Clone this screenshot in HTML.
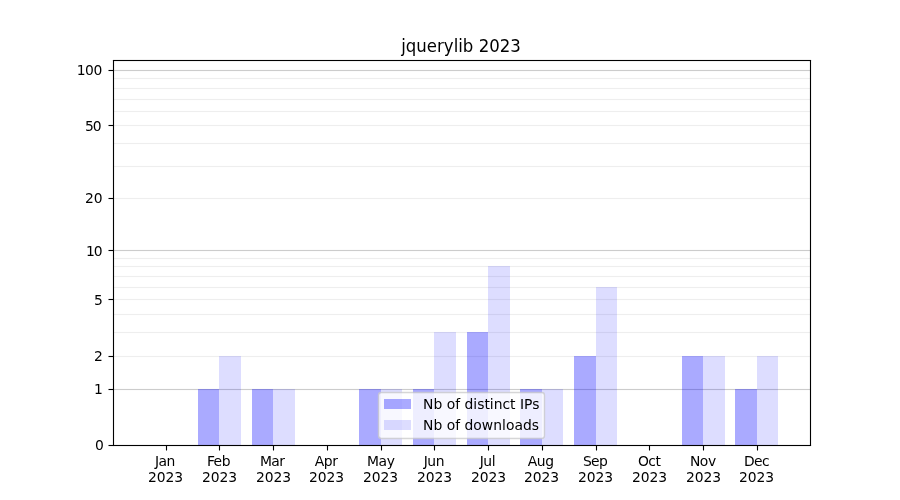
<!DOCTYPE html>
<html lang="en"><head><meta charset="utf-8"><title>jquerylib 2023</title>
<style>html,body{margin:0;padding:0;background:#fff}svg{display:block}text{font-family:'DejaVu Sans','Liberation Sans',sans-serif;fill:#000}.t{font-size:13.889px}.tt{font-size:16.667px}</style></head><body>
<svg width="900" height="500" viewBox="0 0 900 500">
<rect width="900" height="500" fill="#fff"/>
<g fill="#eee">
<rect x="114" y="355.945" width="696" height="1.111"/>
<rect x="114" y="331.945" width="696" height="1.111"/>
<rect x="114" y="313.945" width="696" height="1.111"/>
<rect x="114" y="298.945" width="696" height="1.111"/>
<rect x="114" y="286.945" width="696" height="1.111"/>
<rect x="114" y="275.945" width="696" height="1.111"/>
<rect x="114" y="265.945" width="696" height="1.111"/>
<rect x="114" y="257.945" width="696" height="1.111"/>
<rect x="114" y="197.945" width="696" height="1.111"/>
<rect x="114" y="165.945" width="696" height="1.111"/>
<rect x="114" y="142.945" width="696" height="1.111"/>
<rect x="114" y="124.945" width="696" height="1.111"/>
<rect x="114" y="110.945" width="696" height="1.111"/>
<rect x="114" y="98.945" width="696" height="1.111"/>
<rect x="114" y="87.945" width="696" height="1.111"/>
<rect x="114" y="77.945" width="696" height="1.111"/>
</g>
<g fill="#ccc">
<rect x="114" y="388.945" width="696" height="1.111"/>
<rect x="114" y="249.945" width="696" height="1.111"/>
<rect x="114" y="69.945" width="696" height="1.111"/>
</g>
<g fill="#00f">
<rect x="198" y="389" width="21" height="56" fill-opacity="0.3333"/>
<rect x="219" y="356" width="22" height="89" fill-opacity="0.1333"/>
<rect x="252" y="389" width="21" height="56" fill-opacity="0.3333"/>
<rect x="273" y="389" width="22" height="56" fill-opacity="0.1333"/>
<rect x="359" y="389" width="22" height="56" fill-opacity="0.3333"/>
<rect x="381" y="389" width="21" height="56" fill-opacity="0.1333"/>
<rect x="413" y="389" width="21" height="56" fill-opacity="0.3333"/>
<rect x="434" y="332" width="22" height="113" fill-opacity="0.1333"/>
<rect x="467" y="332" width="21" height="113" fill-opacity="0.3333"/>
<rect x="488" y="266" width="22" height="179" fill-opacity="0.1333"/>
<rect x="520" y="389" width="22" height="56" fill-opacity="0.3333"/>
<rect x="542" y="389" width="21" height="56" fill-opacity="0.1333"/>
<rect x="574" y="356" width="22" height="89" fill-opacity="0.3333"/>
<rect x="596" y="287" width="21" height="158" fill-opacity="0.1333"/>
<rect x="682" y="356" width="21" height="89" fill-opacity="0.3333"/>
<rect x="703" y="356" width="22" height="89" fill-opacity="0.1333"/>
<rect x="735" y="389" width="22" height="56" fill-opacity="0.3333"/>
<rect x="757" y="356" width="21" height="89" fill-opacity="0.1333"/>
</g>
<g stroke="#000" stroke-width="1.111" fill="none">
<path d="M166.5 445.5V450.5"/>
<path d="M219.5 445.5V450.5"/>
<path d="M273.5 445.5V450.5"/>
<path d="M327.5 445.5V450.5"/>
<path d="M381.5 445.5V450.5"/>
<path d="M434.5 445.5V450.5"/>
<path d="M488.5 445.5V450.5"/>
<path d="M542.5 445.5V450.5"/>
<path d="M596.5 445.5V450.5"/>
<path d="M649.5 445.5V450.5"/>
<path d="M703.5 445.5V450.5"/>
<path d="M757.5 445.5V450.5"/>
<rect x="108.5" y="444.945" width="5" height="1.111" fill="#000" stroke="none"/>
<rect x="108.5" y="388.945" width="5" height="1.111" fill="#000" stroke="none"/>
<rect x="108.5" y="355.945" width="5" height="1.111" fill="#000" stroke="none"/>
<rect x="108.5" y="298.945" width="5" height="1.111" fill="#000" stroke="none"/>
<rect x="108.5" y="249.945" width="5" height="1.111" fill="#000" stroke="none"/>
<rect x="108.5" y="197.945" width="5" height="1.111" fill="#000" stroke="none"/>
<rect x="108.5" y="124.945" width="5" height="1.111" fill="#000" stroke="none"/>
<rect x="108.5" y="69.945" width="5" height="1.111" fill="#000" stroke="none"/>
<path d="M113.5 60V446M810.5 60V446"/>
<rect x="112.944" y="59.944" width="698.111" height="1.111" fill="#000" stroke="none"/>
<rect x="112.944" y="444.944" width="698.111" height="1.111" fill="#000" stroke="none"/>
</g>
<rect x="378.5" y="392.5" width="166" height="46" rx="2.78" fill="#fff" stroke="#ccc" stroke-width="1.389" opacity="0.8"/>
<rect x="384" y="399" width="27" height="10" fill="#00f" fill-opacity="0.3333"/>
<rect x="384" y="420" width="27" height="10" fill="#00f" fill-opacity="0.1333"/>
<text class="t" text-anchor="middle" letter-spacing="-0.500" x="164.95" y="466.00">Jan</text>
<text class="t" text-anchor="middle" letter-spacing="-0.100" x="165.45" y="482.00">2023</text>
<text class="t" text-anchor="middle" letter-spacing="-0.500" x="218.44" y="466.00">Feb</text>
<text class="t" text-anchor="middle" letter-spacing="-0.100" x="219.44" y="482.00">2023</text>
<text class="t" text-anchor="middle" letter-spacing="-0.600" x="272.17" y="466.00">Mar</text>
<text class="t" text-anchor="middle" letter-spacing="-0.100" x="273.42" y="482.00">2023</text>
<text class="t" text-anchor="middle" letter-spacing="-0.400" x="326.16" y="466.00">Apr</text>
<text class="t" text-anchor="middle" letter-spacing="-0.100" x="326.53" y="482.00">2023</text>
<text class="t" text-anchor="middle" letter-spacing="-0.450" x="380.77" y="466.00">May</text>
<text class="t" text-anchor="middle" letter-spacing="-0.100" x="380.52" y="482.00">2023</text>
<text class="t" text-anchor="middle" letter-spacing="-0.500" x="433.88" y="466.00">Jun</text>
<text class="t" text-anchor="middle" letter-spacing="-0.100" x="434.51" y="482.00">2023</text>
<text class="t" text-anchor="middle" letter-spacing="-0.450" x="487.37" y="466.00">Jul</text>
<text class="t" text-anchor="middle" letter-spacing="-0.100" x="488.49" y="482.00">2023</text>
<text class="t" text-anchor="middle" letter-spacing="-0.400" x="540.60" y="466.00">Aug</text>
<text class="t" text-anchor="middle" letter-spacing="-0.100" x="541.48" y="482.00">2023</text>
<text class="t" text-anchor="middle" letter-spacing="-0.600" x="595.09" y="466.00">Sep</text>
<text class="t" text-anchor="middle" letter-spacing="-0.100" x="595.47" y="482.00">2023</text>
<text class="t" text-anchor="middle" letter-spacing="-0.500" x="649.20" y="466.00">Oct</text>
<text class="t" text-anchor="middle" letter-spacing="-0.100" x="649.58" y="482.00">2023</text>
<text class="t" text-anchor="middle" letter-spacing="-0.450" x="702.81" y="466.00">Nov</text>
<text class="t" text-anchor="middle" letter-spacing="-0.100" x="703.56" y="482.00">2023</text>
<text class="t" text-anchor="middle" letter-spacing="-0.600" x="756.55" y="466.00">Dec</text>
<text class="t" text-anchor="middle" letter-spacing="-0.100" x="756.55" y="482.00">2023</text>
<text class="t" text-anchor="end" x="103.93" y="450.00">0</text>
<text class="t" text-anchor="end" x="102.93" y="394.00">1</text>
<text class="t" text-anchor="end" x="102.93" y="361.00">2</text>
<text class="t" text-anchor="end" x="102.93" y="305.00">5</text>
<text class="t" text-anchor="end" letter-spacing="-0.900" x="101.78" y="256.00">10</text>
<text class="t" text-anchor="end" letter-spacing="-0.200" x="102.28" y="203.00">20</text>
<text class="t" text-anchor="end" letter-spacing="-0.900" x="100.78" y="131.00">50</text>
<text class="t" text-anchor="end" letter-spacing="-0.500" x="101.78" y="75.00">100</text>
<text class="tt" text-anchor="middle" style="font-size:18.00px" transform="translate(461.00 52.00) scale(0.9213 1.0000)">jquerylib 2023</text>
<text class="t" text-anchor="start" x="423.12" y="409.00">Nb of distinct IPs</text>
<text class="t" text-anchor="start" letter-spacing="0.025" x="422.99" y="430.00">Nb of downloads</text>
</svg></body></html>
